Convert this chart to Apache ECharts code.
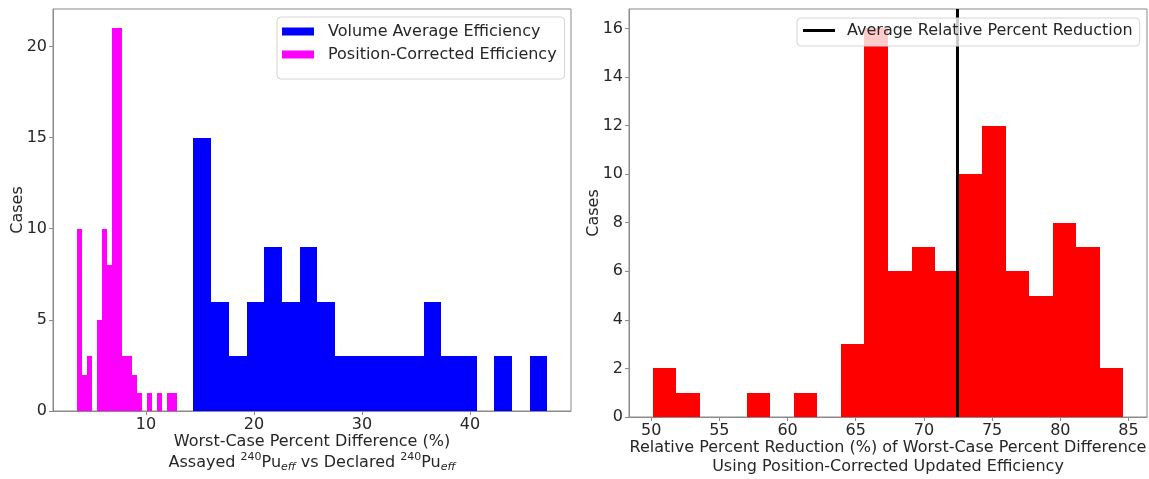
<!DOCTYPE html>
<html>
<head>
<meta charset="utf-8">
<script src="https://cdn.jsdelivr.net/npm/echarts@6/dist/echarts.min.js"></script>
<style>
  html, body { margin: 0; padding: 0; background: #ffffff; }
  #chart { width: 1149px; height: 479px; }
</style>
</head>
<body>
<div id="chart"></div>
<script>
// Histogram data: 20 equal-width bins spanning each [min, max] range
const volumeRange = [14.39, 47.17];
const volumeCounts = [15, 6, 3, 6, 9, 6, 9, 6, 3, 3, 3, 3, 3, 6, 3, 3, 0, 3, 0, 3];

const positionRange = [3.57, 12.90];
const positionCounts = [10, 2, 3, 0, 5, 10, 8, 21, 21, 3, 3, 2, 1, 0, 1, 0, 1, 0, 1, 1];

const reductionRange = [50.10, 84.63];
const reductionCounts = [2, 1, 0, 0, 1, 0, 1, 0, 3, 16, 6, 7, 6, 10, 12, 6, 5, 8, 7, 2];

const avgReduction = 72.46;

// Tick values
const leftXTicks = [10, 20, 30, 40];
const leftYTicks = [0, 5, 10, 15, 20];
const rightXTicks = [50, 55, 60, 65, 70, 75, 80, 85];
const rightYTicks = [0, 2, 4, 6, 8, 10, 12, 14, 16];

const FONT = 'DejaVu Sans';
const TEXT = '#262626';
const SPINE = '#8a8a8a';

function toBins(range, counts) {
  const w = (range[1] - range[0]) / counts.length;
  return counts
    .map((c, i) => [range[0] + i * w, range[0] + (i + 1) * w, c])
    .filter(d => d[2] > 0);
}

// Axis limits with a 5% margin around the data, like an autoscaled histogram
function padded(lo, hi) {
  const p = 0.05 * (hi - lo);
  return [lo - p, hi + p];
}
const leftX = padded(positionRange[0], volumeRange[1]);
const leftYMax = Math.max(...volumeCounts, ...positionCounts) * 1.05;
const rightX = padded(reductionRange[0], reductionRange[1]);
const rightYMax = Math.max(...reductionCounts) * 1.05;

// One filled rectangle per bin; edges snapped to whole pixels so neighbours join cleanly
function renderBin(params, api) {
  const p0 = api.coord([api.value(0), 0]);
  const p1 = api.coord([api.value(1), api.value(2)]);
  const x0 = Math.round(p0[0]), x1 = Math.round(p1[0]);
  const yb = Math.round(p0[1]), yt = Math.round(p1[1]);
  return {
    type: 'rect',
    shape: { x: x0, y: yt, width: x1 - x0, height: yb - yt },
    style: { fill: api.visual('color') }
  };
}

function xAxisCfg(idx, range, ticks, name, rich, nameGap) {
  return {
    type: 'value', gridIndex: idx, min: range[0], max: range[1],
    axisLine: { show: true, lineStyle: { color: SPINE, width: 1 } },
    axisTick: { show: true, length: 4, customValues: ticks, lineStyle: { color: SPINE } },
    axisLabel: { customValues: ticks, margin: 6, fontFamily: FONT, fontSize: 16, color: TEXT },
    splitLine: { show: false },
    name: name, nameLocation: 'middle', nameGap: nameGap, nameMoveOverlap: false,
    nameTextStyle: { fontFamily: FONT, fontSize: 16, color: TEXT, lineHeight: 18.5, rich: rich }
  };
}

function yAxisCfg(idx, max, ticks) {
  return {
    type: 'value', gridIndex: idx, min: 0, max: max,
    axisLine: { show: true, lineStyle: { color: SPINE, width: 1 } },
    axisTick: { show: true, length: 4, customValues: ticks, lineStyle: { color: SPINE } },
    axisLabel: { customValues: ticks, margin: 6, fontFamily: FONT, fontSize: 16, color: TEXT },
    splitLine: { show: false },
    name: 'Cases', nameLocation: 'middle', nameGap: 27, nameMoveOverlap: false,
    nameTextStyle: { fontFamily: FONT, fontSize: 16, color: TEXT }
  };
}

const supSub = {
  n: { fontFamily: FONT, fontSize: 16, color: TEXT, lineHeight: 21 },
  sup: { fontFamily: FONT, fontSize: 11, color: TEXT, verticalAlign: 'top', lineHeight: 21 },
  sub: { fontFamily: FONT, fontSize: 11, color: TEXT, fontStyle: 'italic', verticalAlign: 'bottom', lineHeight: 21 }
};

const legendBase = {
  orient: 'vertical',
  backgroundColor: 'rgba(255,255,255,0.8)',
  borderColor: '#d4d4d4', borderWidth: 1, borderRadius: 4,
  itemWidth: 32,
  textStyle: { fontFamily: FONT, fontSize: 16, color: TEXT, lineHeight: 19 }
};

const chart = echarts.init(document.getElementById('chart'), null, { renderer: 'canvas' });

chart.setOption({
  animation: false,
  backgroundColor: '#ffffff',
  grid: [
    { left: 53, top: 9, width: 518, height: 402, outerBoundsMode: 'none', containLabel: false,
      show: true, borderColor: SPINE, borderWidth: 1, backgroundColor: 'transparent' },
    { left: 629, top: 9, width: 518, height: 408, outerBoundsMode: 'none', containLabel: false,
      show: true, borderColor: SPINE, borderWidth: 1, backgroundColor: 'transparent' }
  ],
  xAxis: [
    xAxisCfg(0, leftX, leftXTicks,
      '{n|Worst-Case Percent Difference (%)}\n{n|Assayed }{sup|240}{n|Pu}{sub|eff}{n| vs Declared }{sup|240}{n|Pu}{sub|eff}',
      supSub, 20),
    xAxisCfg(1, rightX, rightXTicks,
      'Relative Percent Reduction (%) of Worst-Case Percent Difference\nUsing Position-Corrected Updated Efficiency',
      {}, 22)
  ],
  yAxis: [
    yAxisCfg(0, leftYMax, leftYTicks),
    yAxisCfg(1, rightYMax, rightYTicks)
  ],
  legend: [
    Object.assign({}, legendBase, {
      left: 277, top: 17,
      padding: [5, 8, 15, 5],
      itemHeight: 8, itemGap: 4,
      textStyle: Object.assign({}, legendBase.textStyle, { padding: [0, 0, 0, 9] }),
      data: [
        { name: 'Volume Average Efficiency', icon: 'rect' },
        { name: 'Position-Corrected Efficiency', icon: 'rect' }
      ]
    }),
    Object.assign({}, legendBase, {
      left: 797, top: 18,
      padding: [3, 7, 6, 6],
      itemHeight: 3,
      textStyle: Object.assign({}, legendBase.textStyle, { padding: [0, 0, 0, 7] }),
      data: [{ name: 'Average Relative Percent Reduction', icon: 'rect' }]
    })
  ],
  series: [
    {
      name: 'Volume Average Efficiency', type: 'custom',
      xAxisIndex: 0, yAxisIndex: 0,
      itemStyle: { color: '#0000ff' },
      renderItem: renderBin,
      encode: { x: [0, 1], y: 2 },
      data: toBins(volumeRange, volumeCounts)
    },
    {
      name: 'Position-Corrected Efficiency', type: 'custom',
      xAxisIndex: 0, yAxisIndex: 0,
      itemStyle: { color: '#ff00ff' },
      renderItem: renderBin,
      encode: { x: [0, 1], y: 2 },
      data: toBins(positionRange, positionCounts)
    },
    {
      name: 'Relative Percent Reduction', type: 'custom',
      xAxisIndex: 1, yAxisIndex: 1,
      itemStyle: { color: '#ff0000' },
      renderItem: renderBin,
      encode: { x: [0, 1], y: 2 },
      data: toBins(reductionRange, reductionCounts)
    },
    {
      name: 'Average Relative Percent Reduction', type: 'line',
      xAxisIndex: 1, yAxisIndex: 1,
      symbol: 'none', z: 3,
      itemStyle: { color: '#000000' },
      lineStyle: { color: '#000000', width: 3 },
      data: [[avgReduction, 0], [avgReduction, rightYMax]]
    }
  ]
});
</script>
</body>
</html>
